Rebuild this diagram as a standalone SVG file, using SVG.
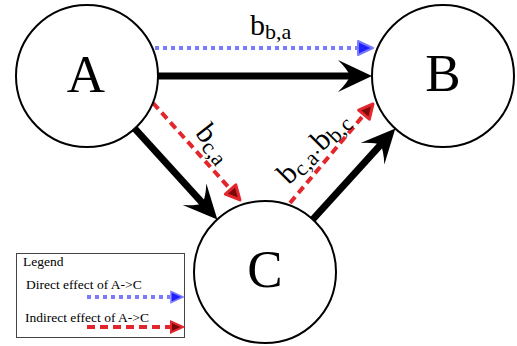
<svg xmlns="http://www.w3.org/2000/svg" width="517" height="346" viewBox="0 0 517 346">
  <defs>
    <style>
      .node circle { fill: #ffffff; stroke: #000000; stroke-width: 2; }
      .node text { font-size: 53px; text-anchor: middle; fill: #000; }
      .strong { stroke: #000; stroke-width: 7; fill: none; marker-end: url(#headBlack); }
      .direct { stroke: #7a7aff; stroke-width: 4; stroke-dasharray: 4 4; fill: none; marker-end: url(#headBlue); }
      .indirect { stroke: #e3262b; stroke-width: 4; stroke-dasharray: 8 5; fill: none; marker-end: url(#headRed); }
      .lbl { font-size: 30px; fill: #000; }
      .sub { font-size: 22px; }
      .legend text { font-size: 13.5px; fill: #000; }
    </style>
    <!-- heavy arrowhead; tip sits 20 px past the line end -->
    <marker id="headBlack" markerUnits="userSpaceOnUse" viewBox="-16 -18 38 36" refX="0" refY="0" markerWidth="38" markerHeight="36" orient="auto" overflow="visible">
      <path d="M20,0 L-14,-16 Q-4,-6 -2,0 Q-4,6 -14,16 Z" fill="#000"/>
    </marker>
    <marker id="headBlue" markerUnits="userSpaceOnUse" viewBox="-4 -10 24 20" refX="0" refY="0" markerWidth="24" markerHeight="20" orient="auto" overflow="visible">
      <path d="M15,0 L0,-7 L0,7 Z" fill="#2020ff" stroke="#7a7aff" stroke-width="2" stroke-linejoin="round"/>
    </marker>
    <marker id="headRed" markerUnits="userSpaceOnUse" viewBox="-4 -10 24 20" refX="0" refY="0" markerWidth="24" markerHeight="20" orient="auto" overflow="visible">
      <path d="M14,0 L0,-7 L0,7 Z" fill="#7a0a0a" stroke="#e3262b" stroke-width="3" stroke-linejoin="round"/>
    </marker>
  </defs>

  <rect width="517" height="346" fill="#ffffff"/>

  <!-- connectors -->
  <g id="edges" font-family="Liberation Serif">
    <line class="strong" x1="158" y1="76" x2="352" y2="76"/>
    <line class="strong" x1="134.7" y1="128.5" x2="203.9" y2="204.7"/>
    <line class="strong" x1="312.7" y1="219.5" x2="381.9" y2="143.3"/>
    <line class="direct" x1="155" y1="48" x2="358" y2="48"/>
    <line class="indirect" x1="153" y1="103" x2="230.6" y2="189.5"/>
    <line class="indirect" x1="290" y1="203" x2="364" y2="114.7"/>
    <text class="lbl" x="250" y="35" font-family="Liberation Serif">b<tspan class="sub" dy="4">b,a</tspan></text>
    <text class="lbl" transform="translate(194.5,133.3) rotate(52)" font-family="Liberation Serif">b<tspan class="sub" dy="4">c,a</tspan></text>
    <text class="lbl" transform="translate(288.8,185.4) rotate(-45)" font-family="Liberation Serif">b<tspan class="sub" dy="4">c,a·</tspan><tspan dy="-4">b</tspan><tspan class="sub" dy="4">b,c</tspan></text>
  </g>

  <g id="A" class="node">
    <circle cx="87" cy="76" r="71"/>
    <text x="86" y="92" font-family="Liberation Serif">A</text>
  </g>
  <g id="B" class="node">
    <circle cx="443" cy="76" r="71"/>
    <text x="443" y="91" font-family="Liberation Serif">B</text>
  </g>
  <g id="C" class="node">
    <circle cx="265" cy="272" r="71"/>
    <text x="265" y="287" font-family="Liberation Serif">C</text>
  </g>

  <g id="legend" class="legend">
    <rect x="16.5" y="253.5" width="168" height="84" fill="#fff" stroke="#444" stroke-width="1"/>
    <text x="23" y="266" font-family="Liberation Serif">Legend</text>
    <text x="26" y="289" font-family="Liberation Serif">Direct effect of A-&gt;C</text>
    <line class="direct" x1="87" y1="297" x2="170" y2="297" stroke-width="3" style="marker-end:none"/>
    <path d="M183,297 L171,291.5 L171,302.5 Z" fill="#2020ff" stroke="#7a7aff" stroke-width="1.5"/>
    <text x="25" y="322" font-family="Liberation Serif">Indirect effect of A-&gt;C</text>
    <line class="indirect" x1="87" y1="327" x2="171" y2="327" stroke-width="3" stroke-dasharray="7 4" style="marker-end:none"/>
    <path d="M183,327 L171,321.5 L171,332.5 Z" fill="#7a0a0a" stroke="#e3262b" stroke-width="2"/>
  </g>
</svg>
